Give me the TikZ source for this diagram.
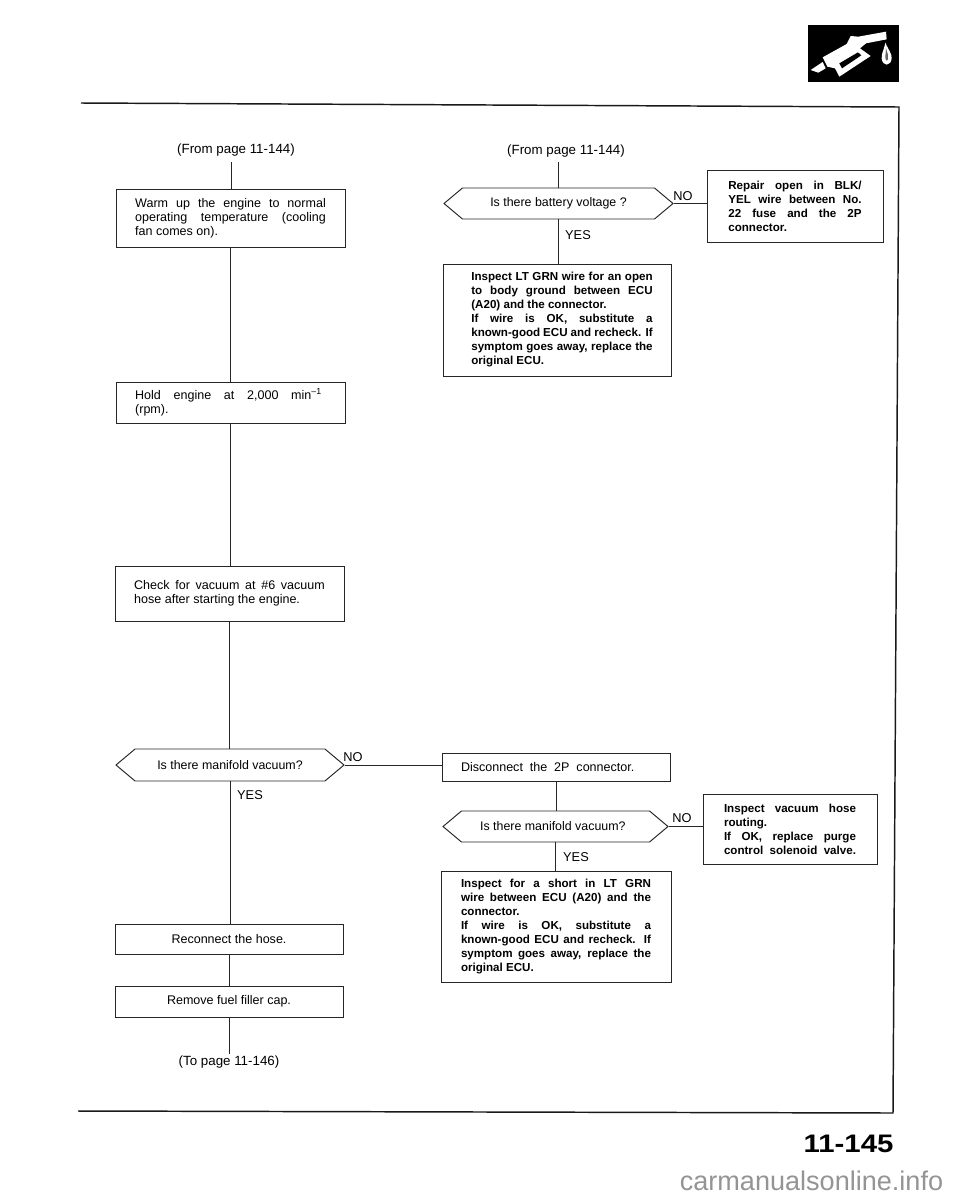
\documentclass[tikz,border=0pt]{standalone}
\usepackage{fontspec}
\setmainfont{Liberation Sans}
\usetikzlibrary{shapes.symbols}
\newcommand{\fl}[2][\linewidth]{\makebox[#1][s]{#2}}
\tikzset{
    inkline/.style={draw=black!85, line width=0.72pt},
    stepbox/.style={inkline, rectangle, inner sep=0pt, font=\fontsize{9.4}{10.5}\selectfont, align=left},
    boldbox/.style={stepbox, font=\fontsize{8.7}{10.5}\selectfont\bfseries},
    askbox/.style={inkline, signal, signal to=west and east, signal pointer angle=80, inner sep=0pt,
        font=\fontsize{9.3}{10.5}\selectfont},
    pagetext/.style={font=\fontsize{10}{11}\selectfont, inner sep=0pt},
    answer/.style={font=\fontsize{9.6}{11}\selectfont, inner sep=0pt}
}
\begin{document}
\begin{tikzpicture}[x=0.75pt, y=-0.75pt]
    \useasboundingbox (0,0) rectangle (960,1200);

    % Khung trang
    \draw[black!90, line width=1.1pt] (81,103) -- (899,107) -- (893,1113) -- (78,1111);

    % Bieu tuong voi bom
    \begin{scope}[shift={(780,0)}, x=0.25pt, y=-0.25pt]
        \fill[black] (83,75) rectangle (358,245);
        \fill[white] (92,210) -- (128,186) -- (137,205) -- (115,218) -- cycle;
        \fill[white] (128,172) -- (200,132) -- (212,108) -- (235,110) -- (318,95) -- (320,118)
            -- (258,130) -- (240,145) -- (272,168) -- (178,230) -- (165,205) -- (142,200) -- cycle;
        \fill[black] (178,190) -- (234,157) -- (244,166) -- (186,205) -- cycle;
        \fill[white] (316,128) .. controls (325,150) and (336,160) .. (335,175)
            .. controls (333,200) and (307,200) .. (305,175)
            .. controls (304,160) and (312,150) .. (316,128) -- cycle;
        \fill[black!60] (318,145) .. controls (322,160) and (327,168) .. (324,178)
            .. controls (320,186) and (316,180) .. (316,170) -- cycle;
    \end{scope}

    % Cot trai
    \node[pagetext] (fromleft) at (236,150) {(From page 11-144)};
    \coordinate (fromleftend) at (231,162);
    \node[stepbox, minimum width=229*0.75pt, minimum height=58*0.75pt] (warm) at (230.5,218)
        {\parbox{143pt}{\fl{Warm up the engine to normal}\\ \fl{operating temperature (cooling}\\ fan comes on).}};
    \node[stepbox, minimum width=229*0.75pt, minimum height=41*0.75pt] (hold) at (230.5,402.5)
        {\parbox{143pt}{\fl[140pt]{Hold engine at 2,000 min\textsuperscript{--1}}\\ (rpm).}};
    \node[stepbox, minimum width=229*0.75pt, minimum height=55*0.75pt] (check) at (229.5,593.5)
        {\parbox{143pt}{\fl{Check for vacuum at \#6 vacuum}\\ hose after starting the engine.}};
    \node[askbox, minimum width=228*0.75pt, minimum height=32*0.75pt] (manifoldleft) at (230,765)
        {Is there manifold vacuum?};
    \node[stepbox, minimum width=228*0.75pt, minimum height=30*0.75pt] (reconnect) at (229,939) {Reconnect the hose.};
    \node[stepbox, minimum width=228*0.75pt, minimum height=31*0.75pt] (remove) at (229,1001.5) {Remove fuel filler cap.};
    \node[pagetext] (topage) at (229,1062) {(To page 11-146)};
    \coordinate (topageend) at (229,1054);

    % Cot phai
    \node[pagetext] (fromright) at (566,151) {(From page 11-144)};
    \coordinate (fromrightend) at (558,162);
    \node[askbox, minimum width=229*0.75pt, minimum height=31*0.75pt] (battery) at (558.5,203.5)
        {Is there battery voltage ?};
    \node[boldbox, minimum width=176*0.75pt, minimum height=72*0.75pt] (repair) at (795,206)
        {\parbox{100pt}{\fl{Repair open in BLK/}\\ \fl{YEL wire between No.}\\ \fl{22 fuse and the 2P}\\ connector.}};
    \node[boldbox, minimum width=228*0.75pt, minimum height=112*0.75pt] (inspectopen) at (557,320)
        {\hspace*{7.5pt}\parbox{136pt}{\fl{Inspect LT GRN wire for an open}\\ \fl{to body ground between ECU}\\
        (A20) and the connector.\\ \fl{If wire is OK, substitute a}\\ \fl{known-good ECU and recheck. If}\\
        \fl{symptom goes away, replace the}\\ original ECU.}};
    \node[stepbox, minimum width=228*0.75pt, minimum height=28*0.75pt] (disconnect) at (556,767)
        {\parbox{142.5pt}{\fl[130pt]{Disconnect the 2P connector.}}};
    \node[askbox, minimum width=225*0.75pt, minimum height=31*0.75pt] (manifoldright) at (555.5,826.5)
        {\hspace*{-4pt}Is there manifold vacuum?};
    \node[boldbox, minimum width=174*0.75pt, minimum height=70*0.75pt] (routing) at (790,829)
        {\parbox{99pt}{\fl{Inspect vacuum hose}\\ routing.\\ \fl{If OK, replace purge}\\ \fl{control solenoid valve.}}};
    \node[boldbox, minimum width=230*0.75pt, minimum height=111*0.75pt] (inspectshort) at (556,926.5)
        {\parbox{142.5pt}{\fl{Inspect for a short in LT GRN}\\ \fl{wire between ECU (A20) and the}\\ connector.\\
        \fl{If wire is OK, substitute a}\\ \fl{known-good ECU and recheck. If}\\
        \fl{symptom goes away, replace the}\\ original ECU.}};

    % Duong noi
    \foreach \a/\b in {fromleftend/warm, warm/hold, hold/check, check/manifoldleft, manifoldleft/reconnect,
        reconnect/remove, fromrightend/battery, battery/inspectopen, disconnect/manifoldright,
        manifoldright/inspectshort} {
        \draw[inkline] (\a |- \a.south) -- (\a |- \b.north);
    }
    \draw[inkline] (remove.south) -- (topageend);
    \draw[inkline] (manifoldleft.east) -- (disconnect.west |- manifoldleft.east);
    \draw[inkline] (battery.east) -- (repair.west |- battery.east);
    \draw[inkline] (manifoldright.east) -- (routing.west |- manifoldright.east);

    % Nhan YES va NO
    \node[answer] (noleft) at (353,757) {NO};
    \node[answer] (yesleft) at (250,795) {YES};
    \node[answer] (nobattery) at (683,196) {NO};
    \node[answer] (yesbattery) at (578,235) {YES};
    \node[answer] (noright) at (682,818) {NO};
    \node[answer] (yesright) at (576,857) {YES};

    % So trang
    \node[inner sep=0pt, font=\fontsize{19}{21}\selectfont\bfseries] (pagenumber) at (848.5,1144)
        {\scalebox{1.16}[1]{11-145}};
    \node[inner sep=0pt, text=black!42, font=\fontsize{20.3}{24}\selectfont] (website) at (811.5,1181)
        {carmanualsonline.info};
\end{tikzpicture}
\end{document}
